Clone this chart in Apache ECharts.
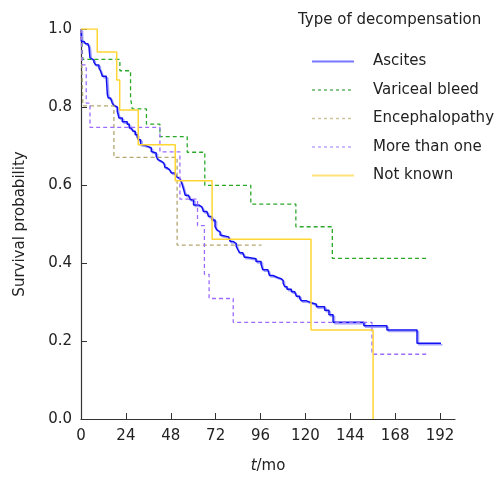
<!DOCTYPE html>
<html>
<head>
<meta charset="UTF-8">
<title>Survival by type of decompensation</title>
<script src="https://cdn.jsdelivr.net/npm/echarts@6/dist/echarts.min.js"></script>
<style>
  html, body { margin: 0; padding: 0; background: #fff; }
  #chart { width: 502px; height: 481px; }
</style>
</head>
<body>
<div id="chart"></div>
<script>
// time (months) of each step and survival just after it
var ascitesT = [0, 0.2, 1.6, 2.5, 3.7, 4.3, 4.8, 5.2, 6.9, 7.8, 9.6, 10.5, 11.4, 13.5, 14.1, 14.6, 15.8, 16.7, 17.6, 18.5, 19.4, 20.3, 22.1, 24.7, 25.8, 26.9, 27.8, 29, 30.1, 30.8, 31.9, 33.1, 35.8, 37.6, 38.5, 40.2, 41.1, 42, 42.9, 44.3, 45, 46.1, 47.4, 48.3, 50, 50.9, 51.8, 52.7, 53.5, 54.2, 55, 55.7, 57.5, 58.4, 60.2, 62.9, 64.6, 65.5, 67.3, 68.2, 70, 71.7, 72.6, 73.6, 74.4, 75.3, 78.9, 79.8, 81.5, 83, 83.9, 84.8, 86.5, 87.4, 88.8, 93.6, 96.3, 97.2, 99.9, 100.8, 102.6, 105.2, 107, 108.1, 109, 110.2, 112.5, 114.3, 115.2, 117, 117.9, 120.6, 123.2, 125.9, 130.3, 132.6, 134.8, 151.3, 163.6, 179.7, 192.5];
var ascitesS = [1.0, 0.968, 0.965, 0.962, 0.958, 0.953, 0.926, 0.921, 0.915, 0.908, 0.9, 0.892, 0.879, 0.874, 0.832, 0.823, 0.819, 0.81, 0.804, 0.8, 0.789, 0.772, 0.762, 0.756, 0.746, 0.743, 0.738, 0.729, 0.722, 0.716, 0.703, 0.699, 0.695, 0.686, 0.682, 0.674, 0.665, 0.661, 0.656, 0.652, 0.644, 0.639, 0.636, 0.631, 0.626, 0.622, 0.617, 0.613, 0.609, 0.6, 0.587, 0.574, 0.57, 0.562, 0.549, 0.544, 0.54, 0.532, 0.527, 0.519, 0.51, 0.493, 0.485, 0.48, 0.472, 0.467, 0.463, 0.455, 0.45, 0.443, 0.434, 0.426, 0.421, 0.415, 0.411, 0.404, 0.396, 0.383, 0.379, 0.368, 0.363, 0.36, 0.355, 0.348, 0.339, 0.333, 0.326, 0.322, 0.315, 0.309, 0.303, 0.298, 0.294, 0.288, 0.279, 0.267, 0.248, 0.239, 0.228, 0.194, 0.194];

var bleedT = [0, 1, 20.8, 26.5, 27.4, 35, 42.2, 56.8, 66.2, 90.8, 114.9, 134.4, 185.9];
var bleedS = [1.0, 0.922, 0.893, 0.823, 0.795, 0.756, 0.724, 0.684, 0.599, 0.551, 0.493, 0.412, 0.412];

var encephT = [0, 1, 17.6, 51.4, 96.5];
var encephS = [1.0, 0.803, 0.671, 0.446, 0.446];

var multiT = [0, 0.8, 2.8, 4.8, 42.2, 52.9, 62.3, 66, 68.5, 81.4, 155.6, 185.9];
var multiS = [1.0, 0.908, 0.81, 0.748, 0.685, 0.564, 0.496, 0.371, 0.309, 0.248, 0.166, 0.166];

var unknownT = [0, 8.7, 19.1, 20.7, 30.6, 50.4, 70.1, 123, 156.2];
var unknownS = [1.0, 0.941, 0.869, 0.792, 0.703, 0.611, 0.461, 0.228, 0.0];

var names = ['Ascites', 'Variceal bleed', 'Encephalopathy', 'More than one', 'Not known'];
var xTicks = [0, 24, 48, 72, 96, 120, 144, 168, 192];

function pairs(t, s) {
  return t.map(function (v, i) { return [v, s[i]]; });
}

var font = 'DejaVu Sans';
var chart = echarts.init(document.getElementById('chart'), null, { renderer: 'canvas' });

function km(name, t, s, color, dashed, width) {
  return {
    name: name,
    type: 'line',
    step: 'end',
    symbol: 'none',
    data: pairs(t, s),
    lineStyle: { color: color, width: width, type: dashed ? [4, 3] : 'solid' },
    itemStyle: { color: color },
    emphasis: { disabled: true },
    animation: false
  };
}

// legend swatches are a bit paler / different from the curves in the original
function legendItem(name, color, dashed, width) {
  return { name: name, lineStyle: { color: color, width: width, type: dashed ? [3, 3] : 'solid' } };
}

var ascites = km(names[0], ascitesT, ascitesS, '#1010f0', false, 1.5);
ascites.lineStyle.shadowColor = 'rgba(90,90,255,0.55)';
ascites.lineStyle.shadowBlur = 0;
ascites.lineStyle.shadowOffsetX = 1.5;
ascites.lineStyle.shadowOffsetY = 1.5;

chart.setOption({
  backgroundColor: '#fff',
  title: {
    text: 'Type of decompensation',
    left: 293, top: 8,
    textStyle: { fontFamily: font, fontSize: 15, fontWeight: 'normal', color: '#222' }
  },
  legend: {
    data: [
      legendItem(names[0], '#7878ff', false, 2),
      legendItem(names[1], '#138a13', true, 1),
      legendItem(names[2], '#cdc49a', true, 1.5),
      legendItem(names[3], '#9b7cff', true, 1.2),
      legendItem(names[4], '#ffe27a', false, 2)
    ],
    orient: 'vertical',
    left: 306, top: 49,
    itemWidth: 42, itemHeight: 14, itemGap: 13.5,
    itemStyle: { opacity: 0 },
    textStyle: { fontFamily: font, fontSize: 15, color: '#222', padding: [0, 0, 0, 14] }
  },
  grid: { left: 81, right: 47, top: 29, bottom: 62 },
  xAxis: {
    type: 'value',
    min: 0, max: 200, interval: 24,
    name: '{i|t}/mo',
    nameLocation: 'middle',
    nameGap: 40,
    nameTextStyle: {
      fontFamily: font, fontSize: 15, color: '#222',
      rich: { i: { fontFamily: font, fontSize: 15, fontStyle: 'italic', color: '#222' } }
    },
    axisLine: { lineStyle: { color: '#333', width: 1.2 } },
    axisTick: { inside: true, length: 6, customValues: xTicks, lineStyle: { color: '#333' } },
    axisLabel: { customValues: xTicks, fontFamily: font, fontSize: 15, color: '#222', margin: 10 },
    splitLine: { show: false }
  },
  yAxis: {
    type: 'value',
    min: 0, max: 1, interval: 0.2,
    name: 'Survival probability',
    nameLocation: 'middle',
    nameGap: 53,
    nameTextStyle: { fontFamily: font, fontSize: 15, color: '#222' },
    axisLine: { show: true, lineStyle: { color: '#333', width: 1.2 } },
    axisTick: { show: true, inside: true, length: 6, lineStyle: { color: '#333' } },
    axisLabel: {
      fontFamily: font, fontSize: 15, color: '#222', margin: 9,
      formatter: function (v) { return v.toFixed(1); }
    },
    splitLine: { show: false }
  },
  series: [
    ascites,
    km(names[1], bleedT, bleedS, '#2aa82a', true, 1.3),
    km(names[2], encephT, encephS, '#b3a772', true, 1.3),
    km(names[3], multiT, multiS, '#9b6cff', true, 1.3),
    km(names[4], unknownT, unknownS, '#ffd633', false, 1.5)
  ]
});
</script>
</body>
</html>
